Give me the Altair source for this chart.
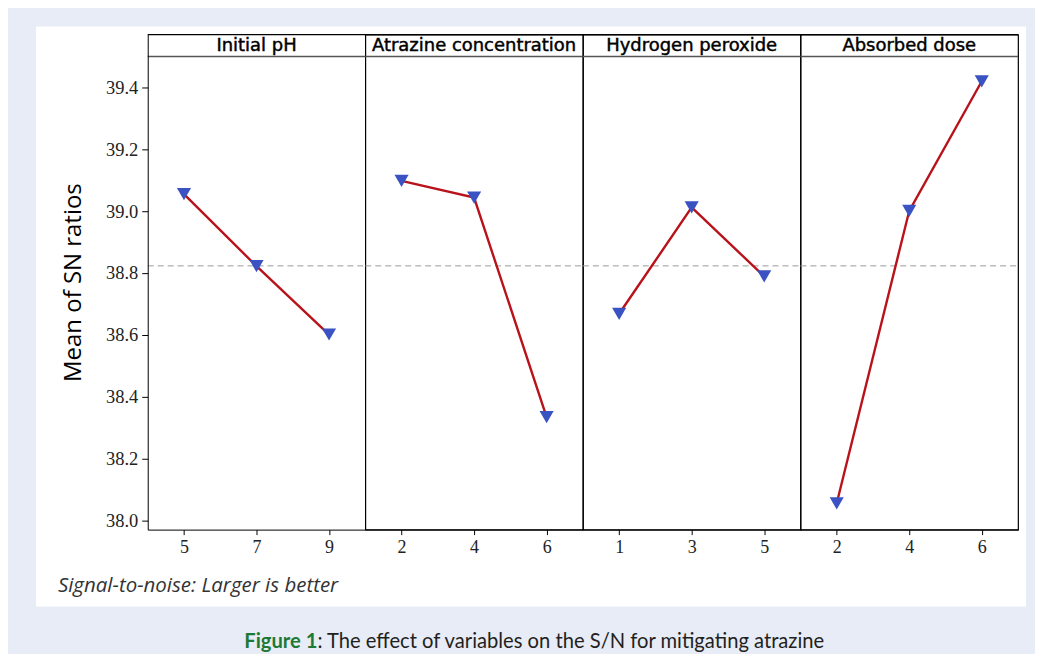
import altair as alt
import pandas as pd

# ---- data ----
factor_names = ["Initial pH", "Atrazine concentration", "Hydrogen peroxide", "Absorbed dose"]
levels_ph = [5, 7, 9]
sn_ph = [39.055, 38.822, 38.601]
levels_atz = [2, 4, 6]
sn_atz = [39.098, 39.044, 38.334]
levels_h2o2 = [1, 3, 5]
sn_h2o2 = [38.668, 39.012, 38.789]
levels_dose = [2, 4, 6]
sn_dose = [38.055, 39.001, 39.420]
mean_sn = 38.823
y_ticks = [38.0, 38.2, 38.4, 38.6, 38.8, 39.0, 39.2, 39.4]

y_title = "Mean of SN ratios"
note_text = "Signal-to-noise: Larger is better"
caption_bold = "Figure 1"
caption_rest = ": The effect of variables on the S/N for mitigating atrazine"

# ---- style ----
PANEL_W = 218
PANEL_H = 496
HEADER_H = 22
Y_DOMAIN = [37.970, 39.571]
RED = "#b8121b"
BLUE = "#3a52c2"
PAGE_BLUE = "#e7ecf6"
GREEN = "#1d7a36"

one = pd.DataFrame({"k": [0]})


def panel(name, levels, values, first):
    df = pd.DataFrame({"level": levels, "sn": values})
    yscale = alt.Scale(domain=Y_DOMAIN, nice=False, zero=False)
    if first:
        yaxis = alt.Axis(values=y_ticks, format=".1f", title=y_title, grid=False,
                         labelFont="Liberation Serif", labelFontSize=18.5, labelColor="#222",
                         titleFont="Open Sans", titleFontSize=24, titleFontWeight="normal",
                         titleColor="#000", titlePadding=20, tickSize=6, labelPadding=4,
                         domainColor="#000", tickColor="#000", zindex=1)
    else:
        yaxis = None
    xenc = alt.X("level:O", scale=alt.Scale(type="point", padding=0.5),
                 axis=alt.Axis(title=None, labelAngle=0, labelFont="Liberation Serif",
                               labelFontSize=18, labelColor="#222", tickSize=5,
                               labelPadding=4, domainColor="#000", tickColor="#000",
                               zindex=1))
    yenc = alt.Y("sn:Q", scale=yscale, axis=yaxis)

    layers = []
    if first:
        layers.append(alt.Chart(one).mark_rect(color="white").encode(
            x=alt.value(-112), x2=alt.value(880), y=alt.value(-8), y2=alt.value(573)))
    mean_df = pd.DataFrame({"sn": [mean_sn]})
    layers.append(alt.Chart(mean_df).mark_rule(color="#9a9a9a", strokeDash=[6, 4],
                                               strokeWidth=1).encode(
        y=yenc, x=alt.value(0), x2=alt.value(PANEL_W)))
    base = alt.Chart(df)
    layers.append(base.mark_line(color=RED, strokeWidth=2.4).encode(x=xenc, y=yenc))
    layers.append(base.mark_point(shape="triangle-down", filled=True, size=200,
                                  color=BLUE, opacity=1).encode(x=xenc, y=yenc))
    layers.append(alt.Chart(one).mark_rule(color="#555", strokeWidth=1.5).encode(
        x=alt.value(0), x2=alt.value(PANEL_W), y=alt.value(HEADER_H)))
    layers.append(alt.Chart(one).mark_rule(color="#000", strokeWidth=1.2).encode(
        x=alt.value(0), x2=alt.value(PANEL_W), y=alt.value(0)))
    layers.append(alt.Chart(one).mark_text(text=name, font="DejaVu Sans", fontSize=18,
                                           baseline="middle", align="center",
                                           color="#000", stroke="#000",
                                           strokeWidth=0.45).encode(
        x=alt.value(PANEL_W / 2), y=alt.value(HEADER_H / 2 + 0.5)))
    if first:
        layers.append(alt.Chart(one).mark_text(text=note_text, font="Open Sans",
                                               fontStyle="italic", fontSize=20.5,
                                               align="left", baseline="middle",
                                               color="#333").encode(
            x=alt.value(-90), y=alt.value(553)))
        layers.append(alt.Chart(one).mark_text(text=caption_bold, font="Lato",
                                               fontWeight="bold", fontSize=20.2,
                                               align="right", baseline="middle",
                                               color=GREEN).encode(
            x=alt.value(170), y=alt.value(609)))
        layers.append(alt.Chart(one).mark_text(text=caption_rest, font="Lato",
                                               fontSize=20.2, align="left",
                                               baseline="middle",
                                               color="#231f20").encode(
            x=alt.value(170), y=alt.value(609)))
    return alt.layer(*layers).properties(width=PANEL_W, height=PANEL_H)


panels = [
    panel(factor_names[0], levels_ph, sn_ph, True),
    panel(factor_names[1], levels_atz, sn_atz, False),
    panel(factor_names[2], levels_h2o2, sn_h2o2, False),
    panel(factor_names[3], levels_dose, sn_dose, False),
]

chart = alt.hconcat(*panels, spacing=0, bounds="flush").configure(
    background=PAGE_BLUE,
    padding={"left": 27, "top": 17, "right": 8, "bottom": 0},
).configure_view(
    stroke="#000", strokeWidth=1.2
)

chart.save("out.html", embed_options={"renderer": "svg", "actions": False})
